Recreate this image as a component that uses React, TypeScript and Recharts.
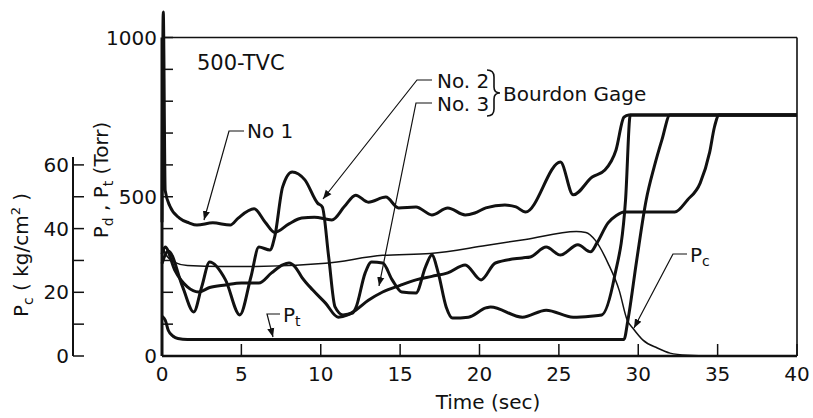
import React from 'react';
import { LineChart, Line, XAxis, YAxis, ReferenceLine } from 'recharts';

const W = 813;
const H = 418;
const FONT = '"DejaVu Sans", "Liberation Sans", sans-serif';
const INK = '#111';

// plot box: t 0..40 s on x, 0..1100 Torr on y (box closes at 1000)
const MARGIN = { top: 5.65, right: 16, bottom: 32, left: 23 };
const X_AXIS_H = 30;
const TORR_AXIS_W = 89;
const PC_AXIS_W = 50;
const PLOT_LEFT = MARGIN.left + PC_AXIS_W + TORR_AXIS_W;
const PC_SPINE_X = MARGIN.left + PC_AXIS_W;
const PLOT_H = H - MARGIN.top - MARGIN.bottom - X_AXIS_H;
const TORR_MAX = 1100;
const PC_MAX = 110;

const TIME_TICKS = [0, 5, 10, 15, 20, 25, 30, 35, 40];
const TORR_TICKS = [0, 100, 200, 300, 400, 500, 600, 700, 800, 900, 1000];
const TORR_LABELS = [0, 500, 1000];
const PC_TICKS = [0, 10, 20, 30, 40, 50, 60];
const PC_LABELS = [0, 20, 40, 60];

// Bourdon gage No 1 (Torr)
const NO1_T = [0, 0.08, 0.2, 0.5, 1.1, 1.7, 2.2, 3.2, 4.3, 4.8, 5.8, 6.5, 7.1, 8.0, 8.8, 9.6, 10.7, 11.5, 12.2, 13.0, 14.1, 14.9, 16.0, 17.0, 18.0, 19.1, 19.7, 20.4, 21.6, 22.3, 22.9, 25.1, 25.9, 27.1, 27.9, 28.6, 29.1, 29.4, 40];
const NO1_P = [420, 1080, 520, 470, 433, 418, 411, 418, 411, 433, 462, 420, 388, 415, 433, 436, 427, 470, 505, 483, 499, 465, 468, 443, 465, 443, 449, 465, 474, 468, 452, 609, 506, 562, 584, 647, 750, 757, 757];

// Bourdon gage No. 2 (Torr)
const NO2_T = [0, 0.4, 1.3, 2.0, 2.5, 3.0, 4.0, 4.9, 5.6, 6.1, 6.8, 7.1, 7.6, 8.2, 9.0, 9.8, 10.1, 10.5, 10.9, 11.4, 12.0, 12.2, 12.8, 13.2, 13.9, 14.5, 15.1, 16.0, 16.6, 17.0, 17.4, 17.9, 18.3, 19.3, 20.4, 20.7, 22.7, 24.2, 25.9, 27.0, 27.7, 28.5, 29.2, 29.5, 40];
const NO2_P = [290, 330, 217, 138, 217, 295, 239, 129, 248, 342, 333, 374, 531, 578, 553, 480, 468, 311, 154, 129, 135, 150, 261, 295, 292, 239, 201, 198, 280, 317, 261, 154, 119, 122, 151, 154, 122, 144, 122, 125, 129, 248, 490, 757, 757];

// Bourdon gage No. 3 (Torr)
const NO3_T = [0, 0.2, 0.8, 1.6, 2.3, 3.0, 4.0, 5.0, 6.1, 6.9, 7.6, 8.0, 8.4, 8.8, 9.5, 10.3, 11.1, 11.7, 12.2, 13.0, 13.9, 15.0, 16.0, 17.0, 18.0, 19.1, 20.1, 21.0, 22.7, 23.2, 24.2, 25.1, 26.2, 27.0, 27.4, 28.1, 28.6, 29.1, 32.3, 33.1, 33.9, 34.5, 34.8, 35.1, 40];
const NO3_P = [320, 342, 270, 217, 201, 215, 223, 229, 229, 261, 286, 292, 279, 248, 207, 166, 122, 129, 144, 175, 201, 222, 239, 250, 261, 286, 239, 292, 308, 311, 342, 317, 349, 327, 355, 418, 440, 452, 452, 490, 543, 640, 719, 757, 757];

// test cell pressure Pt (Torr)
const PT_T = [0, 0.2, 0.4, 0.7, 1.0, 1.6, 5, 10, 15, 20, 25, 29.1, 29.35, 29.9, 30.5, 31.0, 31.5, 32.0, 40];
const PT_P = [125, 113, 80, 62, 55, 52, 52, 52, 52, 52, 52, 52, 113, 300, 490, 593, 680, 757, 757];

// chamber pressure Pc (kg/cm2)
const PC_T = [0.1, 0.2, 0.8, 1.6, 3.8, 5.9, 10.3, 13.9, 16.9, 20.4, 22.9, 26.1, 26.7, 27.3, 28.1, 28.8, 29.3, 29.7, 30.3, 31.2, 32.0, 33.1, 34.5, 40];
const PC_V = [34, 32.2, 29.4, 28.4, 28.1, 28.1, 29.1, 31.6, 32.2, 34.7, 36.6, 39.1, 38.8, 36.3, 29.1, 20.6, 11.3, 8.5, 5.0, 2.5, 0.9, 0.2, 0, 0];

const zip = (t: number[], v: number[]) => t.map((x, i) => ({ t: x, v: v[i] }));

const no1 = zip(NO1_T, NO1_P);
const no2 = zip(NO2_T, NO2_P);
const no3 = zip(NO3_T, NO3_P);
const pt = zip(PT_T, PT_P);
const pc = zip(PC_T, PC_V);

const textProps = { fontFamily: FONT, fontSize: 20, fill: INK };

function TimeTick({ x, y, payload }: any) {
  return (
    <g>
      <line x1={x} y1={y} x2={x} y2={y - 12} stroke={INK} strokeWidth={1.5} />
      <text x={x} y={y + 25} textAnchor="middle" {...textProps}>
        {payload.value}
      </text>
    </g>
  );
}

// Torr ticks point into the plot from its left edge
function TorrTick({ y, payload }: any) {
  const v = payload.value;
  const x = PLOT_LEFT;
  return (
    <g>
      <line x1={x} y1={y} x2={x + 11} y2={y} stroke={INK} strokeWidth={1.5} />
      {TORR_LABELS.includes(v) && (
        <text x={x - 5} y={y + 7} textAnchor="end" {...textProps}>
          {v}
        </text>
      )}
    </g>
  );
}

function PcTick({ y, payload }: any) {
  const v = payload.value;
  const x = PC_SPINE_X;
  // the kg/cm2 scale only runs 0..60, so its spine is drawn from the zero tick
  const spine = v === 0 ? (PLOT_H * 60) / PC_MAX + 8 : 0;
  return (
    <g>
      {spine > 0 && <line x1={x} y1={y} x2={x} y2={y - spine} stroke={INK} strokeWidth={2} />}
      <line x1={x} y1={y} x2={x + 11} y2={y} stroke={INK} strokeWidth={1.5} />
      {PC_LABELS.includes(v) && (
        <text x={x - 4} y={y + 7} textAnchor="end" {...textProps}>
          {v}
        </text>
      )}
    </g>
  );
}

function Annotations() {
  return (
    <svg
      width={W}
      height={H}
      style={{ position: 'absolute', left: 0, top: 0, pointerEvents: 'none' }}
    >
      <defs>
        <marker
          id="head"
          viewBox="0 0 10 10"
          refX="10"
          refY="5"
          markerWidth="9"
          markerHeight="9"
          markerUnits="userSpaceOnUse"
          orient="auto"
        >
          <path d="M0,1 L10,5 L0,9 z" fill={INK} />
        </marker>
      </defs>
      <g stroke={INK} strokeWidth={1.2} fill="none">
        <polyline points="244,131 229,131 204,220" markerEnd="url(#head)" />
        <polyline points="432,80 417,80 323,199" markerEnd="url(#head)" />
        <polyline points="432,103 416,103 379,286" markerEnd="url(#head)" />
        <polyline points="280,314 267,314 273,337" markerEnd="url(#head)" />
        <polyline points="687,254 673,254 634,328" markerEnd="url(#head)" />
        <path d="M487,70 Q494,70 494,77 L494,87 Q494,93 500,93 Q494,93 494,99 L494,109 Q494,116 487,116" strokeWidth={1.6} />
      </g>
      <text x={197} y={70} {...textProps} fontSize={21}>500-TVC</text>
      <text x={247} y={138} {...textProps}>No 1</text>
      <text x={437} y={88} {...textProps}>No. 2</text>
      <text x={437} y={111} {...textProps}>No. 3</text>
      <text x={503} y={101} {...textProps}>Bourdon Gage</text>
      <text x={283} y={322} {...textProps}>
        P<tspan fontSize={14} dy={4}>t</tspan>
      </text>
      <text x={690} y={262} {...textProps}>
        P<tspan fontSize={14} dy={4}>c</tspan>
      </text>
      <text x={488} y={409} textAnchor="middle" {...textProps}>Time (sec)</text>
      <text transform="translate(28,255) rotate(-90)" textAnchor="middle" {...textProps}>
        P<tspan fontSize={14} dy={5}>c</tspan>
        <tspan dy={-5}> ( kg/cm</tspan>
        <tspan fontSize={13} dy={-8}>2</tspan>
        <tspan dy={8}> )</tspan>
      </text>
      <text transform="translate(108,180) rotate(-90)" textAnchor="middle" {...textProps}>
        P<tspan fontSize={14} dy={5}>d</tspan>
        <tspan dy={-5}> , P</tspan>
        <tspan fontSize={14} dy={5}>t</tspan>
        <tspan dy={-5}> (Torr)</tspan>
      </text>
    </svg>
  );
}

const thick = { stroke: INK, strokeWidth: 3, dot: false, isAnimationActive: false, type: 'monotone' as const };

export default function App() {
  return (
    <div style={{ position: 'absolute', left: 0, top: 0, width: W, height: H, background: '#fff' }}>
      <LineChart width={W} height={H} margin={MARGIN}>
        <XAxis
          dataKey="t"
          type="number"
          domain={[0, 40]}
          ticks={TIME_TICKS}
          height={X_AXIS_H}
          tickSize={0}
          tickMargin={0}
          tickLine={false}
          axisLine={{ stroke: INK, strokeWidth: 2.5 }}
          tick={<TimeTick />}
          interval={0}
        />
        <YAxis
          yAxisId="torr"
          type="number"
          domain={[0, TORR_MAX]}
          ticks={TORR_TICKS}
          width={TORR_AXIS_W}
          tickSize={0}
          tickMargin={0}
          tickLine={false}
          axisLine={false}
          tick={<TorrTick />}
          interval={0}
        />
        <YAxis
          yAxisId="pc"
          type="number"
          domain={[0, PC_MAX]}
          ticks={PC_TICKS}
          width={PC_AXIS_W}
          tickSize={0}
          tickMargin={0}
          tickLine={false}
          axisLine={false}
          tick={<PcTick />}
          interval={0}
        />
        <ReferenceLine yAxisId="torr" segment={[{ x: 0, y: 0 }, { x: 0, y: 1000 }]} stroke={INK} strokeWidth={3} />
        <ReferenceLine yAxisId="torr" segment={[{ x: 0, y: 1000 }, { x: 40, y: 1000 }]} stroke={INK} strokeWidth={1.6} />
        <ReferenceLine yAxisId="torr" segment={[{ x: 40, y: 0 }, { x: 40, y: 1000 }]} stroke={INK} strokeWidth={1.6} />
        <Line yAxisId="pc" data={pc} dataKey="v" type="monotone" stroke={INK} strokeWidth={1.5} dot={false} isAnimationActive={false} />
        <Line yAxisId="torr" data={pt} dataKey="v" {...thick} />
        <Line yAxisId="torr" data={no3} dataKey="v" {...thick} />
        <Line yAxisId="torr" data={no2} dataKey="v" {...thick} />
        <Line yAxisId="torr" data={no1} dataKey="v" {...thick} />
      </LineChart>
      <Annotations />
    </div>
  );
}
